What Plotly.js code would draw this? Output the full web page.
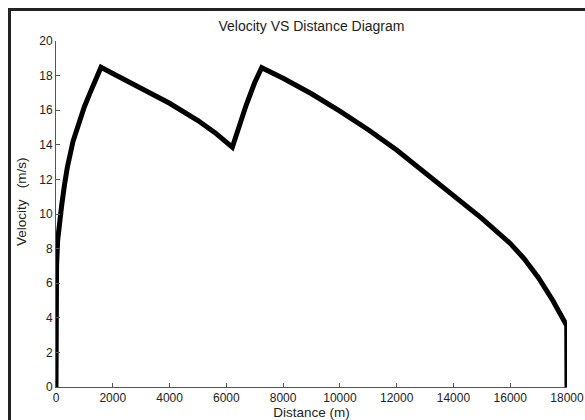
<!DOCTYPE html>
<html>
<head>
<meta charset="utf-8">
<script src="https://cdn.plot.ly/plotly-3.0.1.min.js"></script>
<style>
html, body { margin: 0; padding: 0; background: #fff; }
#wrap { position: relative; width: 585px; height: 420px; overflow: hidden; }
#chart { width: 585px; height: 420px; }
#frame { position: absolute; left: 8px; top: 8px; width: 700px; height: 600px;
  border-left: 3px solid #222; border-top: 3px solid #222; pointer-events: none; }
</style>
</head>
<body>
<div id="wrap">
<div id="chart"></div>
<div id="frame"></div>
</div>
<script>
// Distance (m)
const distance = [0, 0, 20, 60, 120, 200, 300, 400, 600, 800, 1000, 1200, 1400, 1585,
  2000, 3000, 4000, 5000, 5600, 6211,
  6400, 6700, 7000, 7245,
  8000, 9000, 10000, 11000, 12000, 13000, 14000, 15000, 16000, 16500, 17000, 17500, 17990, 18000];
// Velocity (m/s)
const velocity = [0, 5.5, 7.0, 8.5, 9.5, 10.5, 11.7, 12.7, 14.2, 15.3, 16.2, 17.0, 17.8, 18.48,
  18.12, 17.25, 16.4, 15.4, 14.7, 13.86,
  14.9, 16.3, 17.6, 18.46,
  17.85, 16.95, 15.95, 14.87, 13.7, 12.4, 11.05, 9.75, 8.3, 7.4, 6.3, 5.0, 3.55, 0];

const xTicks = [0, 2000, 4000, 6000, 8000, 10000, 12000, 14000, 16000, 18000];
const yTicks = [0, 2, 4, 6, 8, 10, 12, 14, 16, 18, 20];

const fam = 'Liberation Sans, Arial, sans-serif';
const tickFont = {family: fam, size: 12, color: '#222'};
const labFont = {family: fam, size: 13.5, color: '#222'};

Plotly.newPlot('chart', [{
  x: distance, y: velocity, type: 'scatter', mode: 'lines',
  line: {color: '#000', width: 5}, showlegend: false, hoverinfo: 'skip'
}], {
  width: 585, height: 420,
  margin: {l: 56, r: 18, t: 41, b: 33},
  paper_bgcolor: '#fff', plot_bgcolor: '#fff',
  font: tickFont,
  title: {text: 'Velocity VS Distance Diagram', font: {family: fam, size: 14, color: '#222'},
    x: 0.5, xref: 'paper', y: 1 - 26 / 420, yref: 'container', yanchor: 'middle'},
  xaxis: {
    range: [0, 18000], tickvals: xTicks, ticktext: xTicks.map(String),
    showgrid: false, zeroline: false, showline: true, linecolor: '#555', linewidth: 1,
    ticks: 'inside', ticklen: 4, tickcolor: '#555', tickfont: tickFont,
    title: {text: 'Distance (m)', font: labFont, standoff: 2}
  },
  yaxis: {
    range: [0, 20], tickvals: yTicks, ticktext: yTicks.map(String),
    showgrid: false, zeroline: false, showline: true, linecolor: '#555', linewidth: 1,
    ticks: 'inside', ticklen: 4, tickcolor: '#555', tickfont: tickFont
  },
  annotations: [{
    text: 'Velocity\u00a0\u00a0\u00a0(m/s)', font: labFont, textangle: -90,
    xref: 'paper', x: 0, xshift: -35, xanchor: 'center',
    yref: 'paper', y: (387 - 202) / 346, yanchor: 'middle', showarrow: false
  }]
}, {staticPlot: true});
</script>
</body>
</html>
